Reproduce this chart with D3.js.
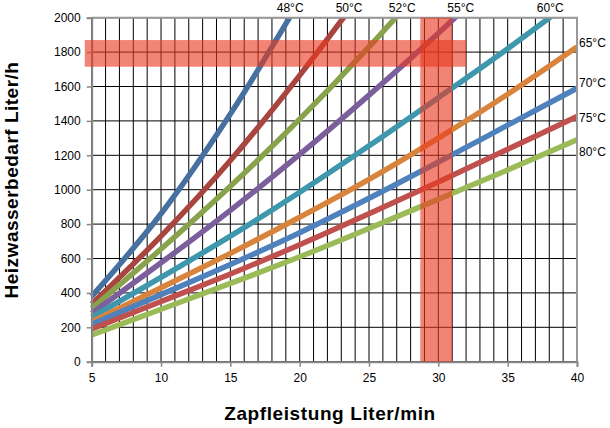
<!DOCTYPE html>
<html>
<head>
<meta charset="utf-8">
<script src="https://cdn.jsdelivr.net/npm/d3@7/dist/d3.min.js"></script>
<style>
  body { margin: 0; background: #fff; }
  text { font-family: Arial, "Liberation Sans", sans-serif; }
</style>
</head>
<body>
<div id="chart"></div>
<script>
// Zapfleistung (L/min) values the curves are read at
const flow = [5, 10, 15, 20, 25, 30, 35, 40];
const labels = ['48°C', '50°C', '52°C', '55°C', '60°C', '65°C', '70°C', '75°C', '80°C'];

// Heizwasserbedarf (L/h), one array per supply temperature
const t48 = [380, 860, 1440, 2100];
const t50 = [335, 730, 1170, 1665, 2200];
const t52 = [310, 655, 1020, 1410, 1830, 2280];
const t55 = [281, 575, 880, 1205, 1550, 1910, 2290];
const t60 = [258, 490, 730, 985, 1255, 1535, 1820, 2120];
const t65 = [233, 430, 630, 840, 1060, 1300, 1555, 1830];
const t70 = [217, 390, 565, 750, 950, 1160, 1375, 1590];
const t75 = [190, 350, 510, 680, 860, 1045, 1235, 1425];
const t80 = [155, 305, 455, 610, 775, 945, 1115, 1290];

// highlighted ranges
const bandFlow = [28.7, 31];
const bandDemand = [1715, 1870];
const bandFlowSpan = [4.5, 32];

const xTicks = [5, 10, 15, 20, 25, 30, 35, 40];
const yTicks = [0, 200, 400, 600, 800, 1000, 1200, 1400, 1600, 1800, 2000];

const series = [t48, t50, t52, t55, t60, t65, t70, t75, t80];
const colors = ['#45709F', '#A9453F', '#88A34C', '#7B5E9C', '#3E97AD',
                '#D8843C', '#4F81BD', '#C0504D', '#9BBB59'];

const width = 610, height = 428;
const pLeft = 91.7, pRight = 577, pTop = 17.7, pBottom = 361.7;

const x = d3.scaleLinear().domain([5, 40]).range([pLeft, pRight]);
const y = d3.scaleLinear().domain([0, 2000]).range([pBottom, pTop]);

const svg = d3.select('#chart').append('svg')
    .attr('width', width)
    .attr('height', height);

svg.append('defs').append('clipPath').attr('id', 'clip')
    .append('rect')
    .attr('x', 0).attr('y', pTop)
    .attr('width', width).attr('height', pBottom - pTop);

// grid
const grid = svg.append('g');
grid.selectAll('.vg').data(d3.range(5, 41)).enter().append('line')
    .attr('x1', d => x(d)).attr('x2', d => x(d))
    .attr('y1', pTop).attr('y2', pBottom)
    .attr('stroke', '#000').attr('stroke-width', 1);
grid.selectAll('.hg').data(yTicks).enter().append('line')
    .attr('x1', pLeft).attr('x2', pRight)
    .attr('y1', d => y(d)).attr('y2', d => y(d))
    .attr('stroke', '#000').attr('stroke-width', 1);

// curves
const line = d3.line()
    .x((d, i) => x(flow[i]))
    .y(d => y(d))
    .curve(d3.curveMonotoneX);

svg.append('g').attr('clip-path', 'url(#clip)')
    .selectAll('path').data(series).enter().append('path')
    .attr('d', d => line(d))
    .attr('fill', 'none')
    .attr('stroke', (d, i) => colors[i])
    .attr('stroke-width', 5.5);

// frame (top / right)
svg.append('path')
    .attr('d', 'M' + pLeft + ',' + pTop + 'H' + pRight + 'V' + pBottom)
    .attr('fill', 'none')
    .attr('stroke', '#999')
    .attr('stroke-width', 2);

// axes
const yAxis = svg.append('g')
    .attr('transform', 'translate(' + pLeft + ',0)')
    .call(d3.axisLeft(y).tickValues(yTicks).tickSize(5).tickPadding(6).tickFormat(d3.format('d')));

const xAxis = svg.append('g')
    .attr('transform', 'translate(0,' + pBottom + ')')
    .call(d3.axisBottom(x).tickValues(xTicks).tickSize(5).tickPadding(7));

[yAxis, xAxis].forEach(function(a) {
    a.select('.domain').attr('stroke', '#8a8a8a').attr('stroke-width', 2);
    a.selectAll('.tick line').attr('stroke', '#8a8a8a').attr('stroke-width', 1.5);
    a.selectAll('text').attr('font-size', 12).attr('fill', '#000')
        .style('font-family', 'Arial, "Liberation Sans", sans-serif');
});

// highlight bands, drawn over everything with transparency
svg.append('rect')
    .attr('x', x(bandFlowSpan[0])).attr('width', x(bandFlowSpan[1]) - x(bandFlowSpan[0]))
    .attr('y', y(bandDemand[1])).attr('height', y(bandDemand[0]) - y(bandDemand[1]))
    .attr('fill', '#E8391F').attr('opacity', 0.62);
svg.append('rect')
    .attr('x', x(bandFlow[0])).attr('width', x(bandFlow[1]) - x(bandFlow[0]))
    .attr('y', y(2000)).attr('height', y(0) - y(2000))
    .attr('fill', '#E8391F').attr('opacity', 0.62);

// labels along the top: where a curve leaves the chart at 2000
const topShift = [1, 6, 7, 6, 1];
series.slice(0, 5).forEach(function(s, i) {
    let xc = flow[s.length - 1];
    for (let k = 1; k < s.length; k++) {
        if (s[k] >= 2000) {
            xc = flow[k - 1] + (2000 - s[k - 1]) / (s[k] - s[k - 1]) * (flow[k] - flow[k - 1]);
            break;
        }
    }
    svg.append('text')
        .attr('x', x(xc) + topShift[i])
        .attr('y', 12)
        .attr('text-anchor', 'middle')
        .attr('font-size', 12)
        .text(labels[i]);
});

// labels on the right side
const rightShift = [-4, -5, 1.5, 12];
series.slice(5).forEach(function(s, i) {
    svg.append('text')
        .attr('x', pRight + 2)
        .attr('y', y(s[s.length - 1]) + rightShift[i])
        .attr('dy', '0.35em')
        .attr('font-size', 12)
        .text(labels[i + 5]);
});

// axis titles
svg.append('text')
    .attr('x', 330)
    .attr('y', 420)
    .attr('text-anchor', 'middle')
    .attr('font-size', 19)
    .attr('font-weight', 'bold')
    .attr('letter-spacing', 0.6)
    .text('Zapfleistung Liter/min');

svg.append('text')
    .attr('transform', 'translate(18.3,180) rotate(-90)')
    .attr('text-anchor', 'middle')
    .attr('font-size', 19)
    .attr('font-weight', 'bold')
    .attr('letter-spacing', 0.5)
    .text('Heizwasserbedarf Liter/h');
</script>
</body>
</html>
